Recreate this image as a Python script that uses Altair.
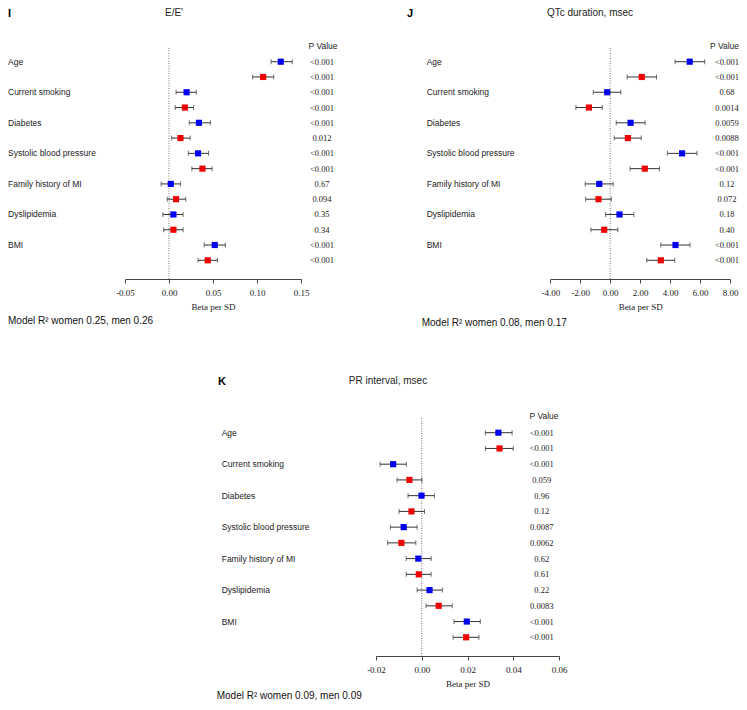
import altair as alt
import pandas as pd

categories = ["Age", "Current smoking", "Diabetes", "Systolic blood pressure",
              "Family history of MI", "Dyslipidemia", "BMI"]

# Panel I: E/E'
ee_blue = [0.127, 0.020, 0.034, 0.033, 0.002, 0.005, 0.052]
ee_blue_lo = [0.116, 0.008, 0.023, 0.022, -0.009, -0.007, 0.040]
ee_blue_hi = [0.140, 0.031, 0.047, 0.045, 0.013, 0.016, 0.064]
ee_red = [0.107, 0.018, 0.013, 0.038, 0.008, 0.005, 0.044]
ee_red_lo = [0.095, 0.007, 0.003, 0.026, -0.002, -0.006, 0.033]
ee_red_hi = [0.119, 0.028, 0.024, 0.049, 0.019, 0.016, 0.055]
ee_p_blue = ["<0.001", "<0.001", "<0.001", "<0.001", "0.67", "0.35", "<0.001"]
ee_p_red = ["<0.001", "<0.001", "0.012", "<0.001", "0.094", "0.34", "<0.001"]
ee_ticks = [-0.05, 0.00, 0.05, 0.10, 0.15]

# Panel J: QTc duration
qt_blue = [5.31, -0.20, 1.36, 4.80, -0.73, 0.62, 4.36]
qt_blue_lo = [4.33, -1.13, 0.40, 3.82, -1.67, -0.31, 3.38]
qt_blue_hi = [6.31, 0.71, 2.33, 5.80, 0.20, 1.58, 5.33]
qt_red = [2.11, -1.42, 1.18, 2.31, -0.78, -0.40, 3.38]
qt_red_lo = [1.13, -2.29, 0.27, 1.33, -1.64, -1.29, 2.44]
qt_red_hi = [3.09, -0.53, 2.07, 3.29, 0.07, 0.51, 4.31]
qt_p_blue = ["<0.001", "0.68", "0.0059", "<0.001", "0.12", "0.18", "<0.001"]
qt_p_red = ["<0.001", "0.0014", "0.0088", "<0.001", "0.072", "0.40", "<0.001"]
qt_ticks = [-4.0, -2.0, 0.0, 2.0, 4.0, 6.0, 8.0]

# Panel K: PR interval
pr_blue = [0.0335, -0.0125, -0.0001, -0.0079, -0.0015, 0.0034, 0.0197]
pr_blue_lo = [0.0278, -0.0182, -0.0060, -0.0137, -0.0068, -0.0020, 0.0141]
pr_blue_hi = [0.0395, -0.0067, 0.0055, -0.0020, 0.0041, 0.0090, 0.0256]
pr_red = [0.0340, -0.0054, -0.0045, -0.0089, -0.0013, 0.0074, 0.0194]
pr_red_lo = [0.0278, -0.0108, -0.0099, -0.0149, -0.0068, 0.0019, 0.0137]
pr_red_hi = [0.0400, 0.0001, 0.0012, -0.0026, 0.0041, 0.0133, 0.0250]
pr_p_blue = ["<0.001", "<0.001", "0.96", "0.0087", "0.62", "0.22", "<0.001"]
pr_p_red = ["<0.001", "0.059", "0.12", "0.0062", "0.61", "0.0083", "<0.001"]
pr_ticks = [-0.02, 0.00, 0.02, 0.04, 0.06]

SANS = "Liberation Sans"
SERIF = "Liberation Serif"
BLUE = "#0000f0"
RED = "#f00000"
WHISK = "#333333"


def build_df(blue, blo, bhi, red, rlo, rhi, pb, pr):
    rows = []
    for i, cat in enumerate(categories):
        rows.append(dict(row=2 * i, series="blue", est=blue[i], lo=blo[i], hi=bhi[i],
                         p=pb[i], label=cat))
        rows.append(dict(row=2 * i + 1, series="red", est=red[i], lo=rlo[i], hi=rhi[i],
                         p=pr[i], label=""))
    return pd.DataFrame(rows)


def panel(letter, letter_x, title, title_x, df, ticks, x_range, view_w, view_h,
          y_range, line_top, label_x, p_x, header_x, header_align, r2, r2_x, r2_y):
    xs = alt.Scale(domain=[ticks[0], ticks[-1]], range=x_range, nice=False, zero=False)
    ys = alt.Scale(domain=[0, 13], range=y_range, nice=False, zero=False)
    xax = alt.Axis(values=ticks, title="Beta per SD", grid=False,
                   labelExpr="datum.value < 0 ? '-' + format(-datum.value, '.2f') : format(datum.value, '.2f')",
                   labelFont=SERIF, labelFontSize=9, labelColor="#222", labelPadding=5,
                   labelFlush=False, labelOverlap=False,
                   titleFont=SERIF, titleFontSize=9, titleFontWeight="normal",
                   titleColor="#222", titlePadding=5,
                   domainColor="#444", tickColor="#444", tickSize=4, tickWidth=1)
    base = alt.Chart(df)
    y_enc = alt.Y("row:Q", scale=ys, axis=None)
    colr = alt.Color("series:N", scale=alt.Scale(domain=["blue", "red"], range=[BLUE, RED]),
                     legend=None)

    px_per_row = (y_range[1] - y_range[0]) / 13.0
    top_row = (line_top - y_range[0]) / px_per_row
    bot_row = (view_h - y_range[0]) / px_per_row
    zero = alt.Chart(pd.DataFrame({"z": [0]})).mark_rule(
        color="#777", strokeDash=[1, 1.5], strokeWidth=1).encode(
        x=alt.XDatum(0, scale=xs, axis=xax),
        y=alt.YDatum(top_row, scale=ys, axis=None),
        y2=alt.Y2Datum(bot_row))

    whisk = base.mark_rule(color=WHISK, strokeWidth=1).encode(
        x=alt.X("lo:Q", scale=xs, axis=xax), x2="hi:Q", y=y_enc)
    cap_lo = base.mark_tick(orient="vertical", color=WHISK, size=5, thickness=1).encode(
        x=alt.X("lo:Q", scale=xs, axis=xax), y=y_enc)
    cap_hi = base.mark_tick(orient="vertical", color=WHISK, size=5, thickness=1).encode(
        x=alt.X("hi:Q", scale=xs, axis=xax), y=y_enc)
    pts = base.mark_square(size=38, opacity=1, filled=True).encode(
        x=alt.X("est:Q", scale=xs, axis=xax), y=y_enc, color=colr)

    labels = base.mark_text(align="left", baseline="middle", font=SANS, fontSize=8.5,
                            color="#222").encode(
        x=alt.value(label_x), y=y_enc, text="label:N")
    pvals = base.mark_text(align="center", baseline="middle", font=SERIF, fontSize=8.5,
                           color="#222").encode(
        x=alt.value(p_x), y=y_enc, text="p:N")
    header = alt.Chart(pd.DataFrame({"t": ["P Value"]})).mark_text(
        align=header_align, baseline="middle", font=SANS, fontSize=8.5, color="#222").encode(
        x=alt.value(header_x), y=alt.YDatum(-1.03, scale=ys, axis=None), text="t:N")

    let = alt.Chart(pd.DataFrame({"t": [letter]})).mark_text(
        align="left", baseline="top", font=SANS, fontSize=11, fontWeight="bold",
        color="#000").encode(x=alt.value(letter_x), y=alt.value(0), text="t:N")
    ttl = alt.Chart(pd.DataFrame({"t": [title]})).mark_text(
        align="center", baseline="top", font=SANS, fontSize=10, color="#222").encode(
        x=alt.value(title_x), y=alt.value(0), text="t:N")
    r2t = alt.Chart(pd.DataFrame({"t": [r2]})).mark_text(
        align="left", baseline="middle", font=SANS, fontSize=10, color="#111").encode(
        x=alt.value(r2_x), y=alt.value(r2_y), text="t:N")

    return alt.layer(zero, whisk, cap_lo, cap_hi, pts, labels, pvals, header, let, ttl, r2t
                     ).properties(width=view_w, height=view_h)


df_i = build_df(ee_blue, ee_blue_lo, ee_blue_hi, ee_red, ee_red_lo, ee_red_hi, ee_p_blue, ee_p_red)
df_j = build_df(qt_blue, qt_blue_lo, qt_blue_hi, qt_red, qt_red_lo, qt_red_hi, qt_p_blue, qt_p_red)
df_k = build_df(pr_blue, pr_blue_lo, pr_blue_hi, pr_red, pr_red_lo, pr_red_hi, pr_p_blue, pr_p_red)

panel_i = panel("I", 0, "E/E'", 166, df_i, ee_ticks, [117, 293], 360, 271,
                [53.7, 252.3], 40, 0, 314, 315, "center",
                "Model R\u00b2 women 0.25, men 0.26", 0, 313)
panel_j = panel("J", 37, "QTc duration, msec", 220, df_j, qt_ticks, [180.3, 360], 369, 271,
                [53.7, 252.3], 40, 56.7, 357, 369, "right",
                "Model R\u00b2 women 0.08, men 0.17", 51.7, 315)
panel_k = panel("K", 210, "PR interval, msec", 380, df_k, pr_ticks, [368, 551], 560, 280,
                [56.7, 261.3], 42, 213.7, 533.7, 536, "center",
                "Model R\u00b2 women 0.09, men 0.09", 208.7, 320)

top = alt.hconcat(panel_i, panel_j, spacing=2, bounds="flush")
chart = alt.vconcat(top, panel_k, spacing=48, padding=0, background="white").configure_view(
    stroke=None)

chart.save("out.html", embed_options={"renderer": "svg", "actions": False})
